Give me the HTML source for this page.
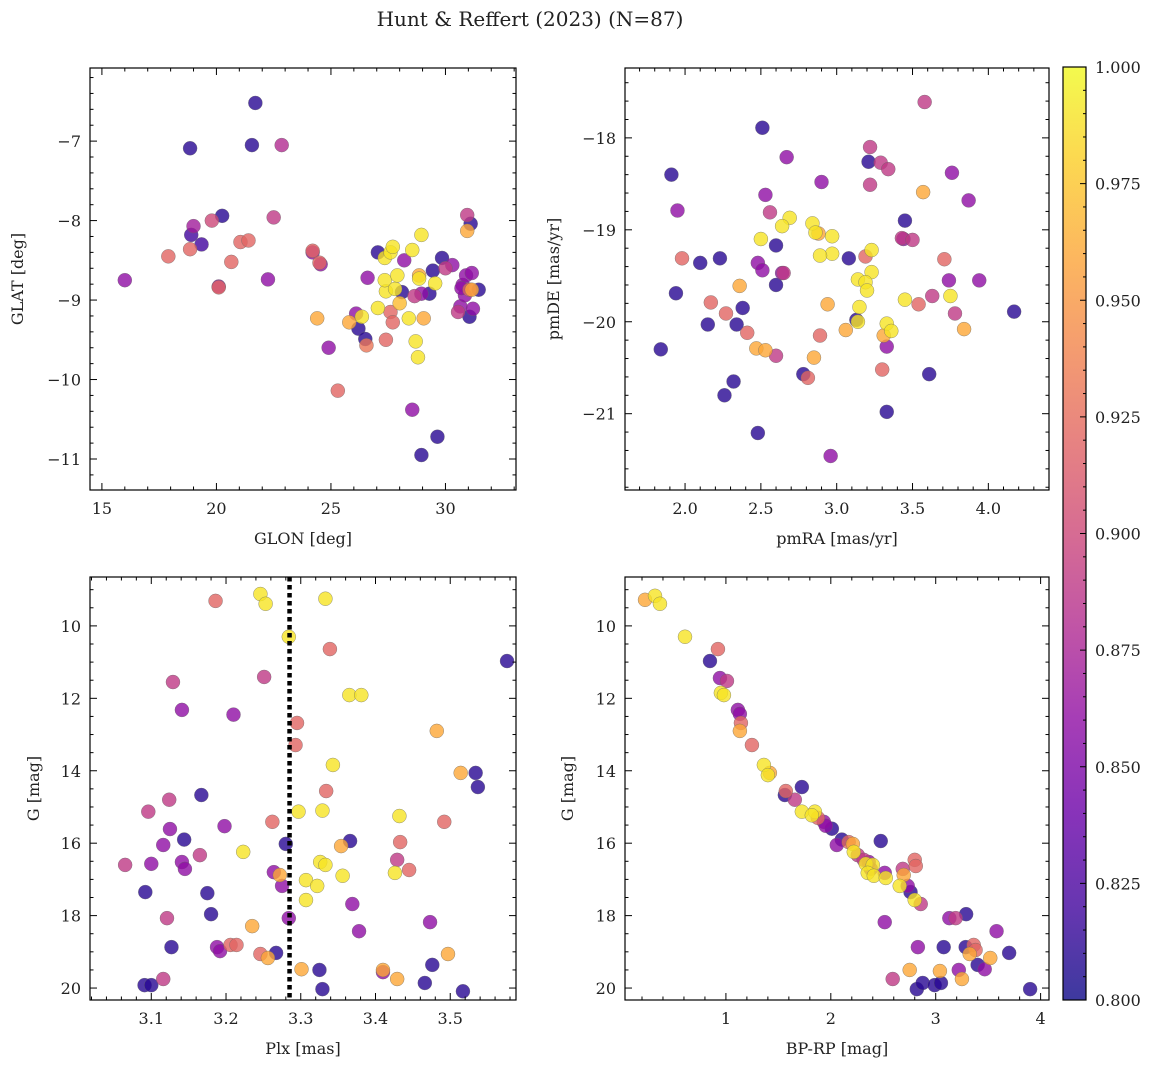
<!DOCTYPE html>
<html><head><meta charset="utf-8">
<style>
html,body{margin:0;padding:0;background:#fff;}
svg text{font-family:"DejaVu Serif","Liberation Serif",serif;fill:#222;}
</style></head>
<body>
<svg id="chart" width="1160" height="1067" viewBox="0 0 1160 1067" xmlns="http://www.w3.org/2000/svg">
<defs>
<linearGradient id="cbgrad" x1="0" y1="1" x2="0" y2="0">
<stop offset="0" stop-color="#0d0887"/><stop offset="0.1" stop-color="#41049d"/><stop offset="0.2" stop-color="#6a00a8"/><stop offset="0.3" stop-color="#8f0da4"/><stop offset="0.4" stop-color="#b12a90"/><stop offset="0.5" stop-color="#cc4778"/><stop offset="0.6" stop-color="#e16462"/><stop offset="0.7" stop-color="#f2844b"/><stop offset="0.8" stop-color="#fca636"/><stop offset="0.9" stop-color="#fcce25"/><stop offset="1" stop-color="#f0f921"/>
</linearGradient>
</defs>
<text x="530" y="26" font-size="20" text-anchor="middle">Hunt &amp; Reffert (2023) (N=87)</text>
</svg>
<script>
// Panel 1: GLON vs GLAT
const p1x=[16.0,18.85,21.7,21.55,22.85,17.9,19.0,18.9,19.35,18.85,19.8,20.25,20.1,20.1,20.65,21.05,21.4,22.5,22.25,24.2,24.2,24.5,24.55,24.4,24.9,25.3,25.8,26.1,26.2,26.35,26.5,26.55,26.6,27.05,27.05,27.35,27.6,27.7,27.4,27.35,27.8,27.9,27.4,27.6,27.7,28.0,28.1,28.2,28.4,28.55,28.65,28.7,28.8,28.85,28.85,28.95,29.05,28.95,28.55,28.95,29.65,29.3,29.55,29.45,29.85,30.0,30.3,30.55,30.65,30.75,30.85,30.9,30.95,30.95,31.1,31.05,31.2,31.15,31.05,31.15,31.45,30.7];
const p1y=[-8.75,-7.09,-6.52,-7.05,-7.05,-8.45,-8.07,-8.18,-8.3,-8.36,-8.0,-7.94,-8.84,-8.83,-8.52,-8.27,-8.25,-7.96,-8.74,-8.38,-8.4,-8.53,-8.55,-9.23,-9.6,-10.14,-9.28,-9.17,-9.36,-9.21,-9.49,-9.57,-8.72,-8.4,-9.1,-8.47,-8.4,-8.33,-8.89,-8.75,-8.86,-8.69,-9.5,-9.15,-9.28,-9.04,-8.9,-8.5,-9.23,-8.37,-8.95,-9.52,-9.72,-8.69,-8.73,-8.18,-9.23,-8.92,-10.38,-10.95,-10.72,-8.92,-8.79,-8.63,-8.47,-8.6,-8.56,-9.15,-9.08,-8.81,-8.94,-8.69,-7.93,-8.13,-8.04,-9.21,-9.11,-8.66,-8.87,-8.87,-8.87,-8.85];
const p1c=[0.86,0.81,0.81,0.81,0.88,0.92,0.87,0.82,0.82,0.92,0.9,0.81,0.92,0.86,0.92,0.92,0.92,0.89,0.86,0.92,0.86,0.92,0.86,0.96,0.86,0.92,0.96,0.86,0.81,0.99,0.81,0.93,0.86,0.81,0.99,0.99,0.99,0.99,0.99,0.99,0.99,0.99,0.92,0.92,0.92,0.97,0.81,0.86,0.99,0.99,0.89,0.99,0.99,0.96,0.99,0.99,0.96,0.86,0.86,0.81,0.81,0.81,0.99,0.81,0.81,0.89,0.86,0.89,0.86,0.86,0.86,0.86,0.89,0.96,0.81,0.81,0.86,0.86,0.92,0.96,0.81,0.86];
// Panel 2: pmRA vs pmDE
const p2x=[3.58,2.51,3.22,3.21,3.29,3.34,2.67,1.91,3.76,2.9,2.53,3.22,3.57,3.87,1.95,2.56,3.45,2.69,2.64,2.84,2.86,2.88,2.97,2.5,3.43,3.44,3.5,2.6,3.23,1.98,2.23,2.1,2.48,2.51,2.65,2.64,2.97,2.89,3.08,3.19,3.23,3.71,3.14,3.19,3.2,3.74,3.94,1.94,2.6,3.63,3.75,3.45,3.54,2.17,2.94,3.15,2.38,2.27,2.36,3.78,4.17,2.15,2.34,3.13,3.14,3.33,3.84,3.06,3.36,3.31,2.41,2.89,3.33,1.84,2.47,2.53,2.6,2.85,3.3,2.78,2.81,3.61,2.32,2.26,3.33,2.48,2.96];
const p2y=[-17.61,-17.89,-18.1,-18.26,-18.27,-18.34,-18.21,-18.4,-18.38,-18.48,-18.62,-18.51,-18.59,-18.68,-18.79,-18.81,-18.9,-18.87,-18.96,-18.93,-19.03,-19.04,-19.07,-19.1,-19.09,-19.1,-19.11,-19.17,-19.22,-19.31,-19.31,-19.36,-19.36,-19.44,-19.47,-19.47,-19.26,-19.28,-19.31,-19.29,-19.46,-19.32,-19.54,-19.57,-19.66,-19.55,-19.55,-19.69,-19.6,-19.72,-19.72,-19.76,-19.81,-19.79,-19.81,-19.84,-19.85,-19.91,-19.61,-19.91,-19.89,-20.03,-20.03,-19.98,-20.0,-20.02,-20.08,-20.09,-20.1,-20.15,-20.12,-20.15,-20.27,-20.3,-20.29,-20.31,-20.37,-20.39,-20.52,-20.57,-20.61,-20.57,-20.65,-20.8,-20.98,-21.21,-21.46];
const p2c=[0.89,0.81,0.89,0.81,0.89,0.89,0.86,0.81,0.86,0.86,0.86,0.89,0.96,0.86,0.86,0.89,0.81,0.99,0.99,0.99,0.99,0.96,0.99,0.99,0.89,0.86,0.89,0.81,0.99,0.92,0.81,0.81,0.86,0.86,0.89,0.86,0.99,0.99,0.81,0.92,0.99,0.92,0.99,0.99,0.99,0.86,0.86,0.81,0.81,0.89,0.99,0.99,0.92,0.92,0.96,0.99,0.81,0.92,0.96,0.89,0.81,0.81,0.81,0.81,0.99,0.99,0.96,0.96,0.99,0.96,0.92,0.92,0.86,0.81,0.96,0.96,0.89,0.96,0.92,0.81,0.92,0.81,0.81,0.81,0.81,0.81,0.86];
// Panel 3: Plx vs G
const p3x=[3.186,3.246,3.253,3.333,3.284,3.339,3.576,3.129,3.251,3.365,3.381,3.141,3.21,3.295,3.482,3.293,3.343,3.334,3.514,3.534,3.537,3.124,3.167,3.096,3.297,3.329,3.432,3.492,3.262,3.125,3.198,3.144,3.366,3.433,3.116,3.28,3.354,3.223,3.165,3.065,3.1,3.141,3.145,3.326,3.333,3.429,3.356,3.426,3.445,3.264,3.272,3.275,3.307,3.322,3.092,3.175,3.307,3.369,3.18,3.121,3.284,3.235,3.473,3.378,3.127,3.188,3.192,3.206,3.214,3.246,3.256,3.267,3.497,3.476,3.301,3.325,3.41,3.41,3.116,3.429,3.091,3.1,3.466,3.329,3.517];
const p3y=[9.31,9.12,9.39,9.25,10.3,10.64,10.97,11.55,11.41,11.91,11.91,12.32,12.45,12.68,12.9,13.29,13.84,14.56,14.06,14.06,14.45,14.8,14.67,15.13,15.13,15.1,15.25,15.41,15.41,15.61,15.53,15.9,15.94,15.97,16.05,16.02,16.08,16.24,16.33,16.6,16.57,16.52,16.71,16.52,16.6,16.46,16.9,16.82,16.74,16.8,16.88,17.18,17.02,17.18,17.35,17.38,17.57,17.68,17.96,18.07,18.07,18.29,18.18,18.43,18.87,18.87,18.98,18.81,18.81,19.06,19.17,19.03,19.06,19.36,19.48,19.5,19.5,19.56,19.75,19.75,19.92,19.92,19.86,20.03,20.09];
const p3c=[0.92,0.99,0.99,0.99,0.99,0.92,0.81,0.89,0.89,0.99,0.99,0.86,0.86,0.92,0.96,0.92,0.99,0.92,0.96,0.81,0.81,0.89,0.81,0.89,0.99,0.99,0.99,0.92,0.92,0.86,0.86,0.81,0.81,0.92,0.86,0.81,0.96,0.99,0.89,0.89,0.86,0.86,0.86,0.99,0.99,0.89,0.99,0.99,0.92,0.86,0.96,0.86,0.99,0.99,0.81,0.81,0.99,0.86,0.81,0.89,0.86,0.96,0.86,0.86,0.81,0.86,0.86,0.92,0.92,0.92,0.96,0.81,0.96,0.81,0.96,0.81,0.96,0.86,0.89,0.96,0.81,0.81,0.81,0.81,0.81];
// Panel 4: BP-RP vs G
const p4x=[0.229,0.324,0.371,0.61,0.924,0.848,0.943,1.01,0.952,0.981,1.114,1.133,1.143,1.133,1.248,1.362,1.419,1.4,1.724,1.571,1.562,1.657,1.848,1.724,1.819,1.876,1.933,1.952,2.01,2.105,2.057,2.17,2.21,2.476,2.219,2.257,2.314,2.362,2.333,2.4,2.381,2.352,2.41,2.524,2.514,2.686,2.695,2.657,2.733,2.76,2.8,2.857,2.8,2.81,2.514,3.13,3.19,3.29,3.58,2.83,3.076,3.286,3.362,3.38,3.324,3.7,3.52,3.4,3.467,3.22,2.752,3.04,2.59,3.25,2.82,2.876,2.99,3.05,3.9];
const p4y=[9.28,9.17,9.39,10.3,10.64,10.97,11.44,11.52,11.85,11.91,12.32,12.43,12.68,12.9,13.29,13.84,14.06,14.12,14.45,14.56,14.67,14.8,15.13,15.13,15.23,15.3,15.41,15.52,15.6,15.9,16.05,15.97,16.02,15.94,16.24,16.33,16.46,16.52,16.57,16.6,16.71,16.82,16.9,16.96,16.82,16.71,16.88,17.18,17.18,17.35,17.57,17.68,16.46,16.63,18.18,18.07,18.07,17.96,18.43,18.87,18.87,18.87,18.81,18.95,19.06,19.03,19.17,19.36,19.48,19.5,19.5,19.53,19.75,19.75,20.03,19.86,19.92,19.86,20.03];
const p4c=[0.96,0.99,0.99,0.99,0.92,0.81,0.86,0.89,0.99,0.99,0.86,0.86,0.92,0.96,0.92,0.99,0.96,0.99,0.81,0.92,0.81,0.89,0.99,0.99,0.99,0.92,0.86,0.86,0.81,0.81,0.86,0.92,0.96,0.81,0.99,0.89,0.89,0.86,0.99,0.99,0.86,0.99,0.99,0.99,0.86,0.89,0.96,0.99,0.86,0.81,0.99,0.89,0.92,0.92,0.86,0.86,0.89,0.81,0.86,0.86,0.81,0.81,0.92,0.92,0.96,0.81,0.96,0.81,0.86,0.86,0.96,0.96,0.89,0.96,0.81,0.81,0.81,0.81,0.81];
const plxLine=3.285;
const cbTicks=[0.800,0.825,0.850,0.875,0.900,0.925,0.950,0.975,1.000];

const NS='http://www.w3.org/2000/svg';
const svg=document.getElementById('chart');
const stops=[[0,'#0d0887'],[0.1,'#41049d'],[0.2,'#6a00a8'],[0.3,'#8f0da4'],[0.4,'#b12a90'],[0.5,'#cc4778'],[0.6,'#e16462'],[0.7,'#f2844b'],[0.8,'#fca636'],[0.9,'#fcce25'],[1,'#f0f921']];
function hex(h){return [1,3,5].map(i=>parseInt(h.substr(i,2),16));}
function plasma(v){let t=Math.max(0,Math.min(1,(v-0.8)/0.2));for(let i=0;i<stops.length-1;i++){if(t<=stops[i+1][0]){const f=(t-stops[i][0])/(stops[i+1][0]-stops[i][0]);const a=hex(stops[i][1]),b=hex(stops[i+1][1]);return 'rgb('+a.map((x,k)=>Math.round(x+(b[k]-x)*f)).join(',')+')';}}return stops[10][1];}
function mk(tag,attrs,parent){const e=document.createElementNS(NS,tag);for(const k in attrs)e.setAttribute(k,attrs[k]);(parent||svg).appendChild(e);return e;}
function fmt(v,d){const s=v.toFixed(d);return v<0?'\u2212'+s.slice(1):s;}

function panel(o){
  const g=mk('g',{});
  
  
  const sx=v=>o.L+(v-o.x0)/(o.x1-o.x0)*(o.R-o.L);
  const sy=v=>o.inv? o.T+(v-o.y0)/(o.y1-o.y0)*(o.B-o.T) : o.B-(v-o.y0)/(o.y1-o.y0)*(o.B-o.T);
  const pts=mk('g',{},g);
  
  
  const idx=o.xs.map((_,i)=>i).sort((a,b)=>o.cs[a]-o.cs[b]);
  idx.forEach(i=>{
    const c=mk('circle',{cx:sx(o.xs[i]),cy:sy(o.ys[i]),r:7,fill:plasma(o.cs[i]),'fill-opacity':0.8,stroke:'#666','stroke-width':0.5,'stroke-opacity':0.7},pts);
    
    
  });
  if(o.vline!==undefined){
    const l=mk('line',{x1:sx(o.vline),x2:sx(o.vline),y1:o.T,y2:o.B,stroke:'#000','stroke-width':4.5,'stroke-dasharray':'4.5,3.5'},g);
    
    
  }
  const fr=mk('rect',{x:o.L,y:o.T,width:o.R-o.L,height:o.B-o.T,fill:'none',stroke:'#000','stroke-width':1.2},g);
  
  
  const tk=mk('g',{stroke:'#000','stroke-width':1},g);
  
  
  const eps=1e-9;
  for(let v=Math.ceil(o.x0/o.xmin-eps)*o.xmin; v<=o.x1+eps; v+=o.xmin){
    const X=sx(v);const maj=Math.abs(v/o.xmaj-Math.round(v/o.xmaj))<1e-6;const len=maj?7:3.5;
    mk('line',{x1:X,x2:X,y1:o.B,y2:o.B-len},tk);mk('line',{x1:X,x2:X,y1:o.T,y2:o.T+len},tk);
    if(maj){const t=mk('text',{x:X,y:o.B+24,'font-size':16,'text-anchor':'middle'},g);t.textContent=fmt(v,o.xd);
      }
  }
  const ylo=Math.min(o.y0,o.y1),yhi=Math.max(o.y0,o.y1);
  for(let v=Math.ceil(ylo/o.ymin-eps)*o.ymin; v<=yhi+eps; v+=o.ymin){
    const Y=sy(v);const maj=Math.abs(v/o.ymaj-Math.round(v/o.ymaj))<1e-6;const len=maj?7:3.5;
    mk('line',{x1:o.L,x2:o.L+len,y1:Y,y2:Y},tk);mk('line',{x1:o.R,x2:o.R-len,y1:Y,y2:Y},tk);
    if(maj){const t=mk('text',{x:o.L-9,y:Y+6,'font-size':16,'text-anchor':'end'},g);t.textContent=fmt(v,o.yd);
      }
  }
  const xl=mk('text',{x:(o.L+o.R)/2,y:o.B+54,'font-size':16,'text-anchor':'middle'},g);xl.textContent=o.xlab;
  
  const yx=o.ylx, yy=(o.T+o.B)/2;
  const yl=mk('text',{x:yx,y:yy,'font-size':16,'text-anchor':'middle',transform:'rotate(-90 '+yx+' '+yy+')'},g);yl.textContent=o.ylab;
  
}

panel({name:'panel-glon-glat',L:90,R:516,T:68,B:490,x0:14.48,x1:33.08,y0:-11.39,y1:-6.08,xmaj:5,xmin:1,ymaj:1,ymin:0.2,xd:0,yd:0,xs:p1x,ys:p1y,cs:p1c,xlab:'GLON [deg]',ylab:'GLAT [deg]',ylx:23});
panel({name:'panel-pm',L:625,R:1049,T:68,B:490,x0:1.604,x1:4.40,y0:-21.83,y1:-17.24,xmaj:0.5,xmin:0.1,ymaj:1,ymin:0.2,xd:1,yd:0,xs:p2x,ys:p2y,cs:p2c,xlab:'pmRA [mas/yr]',ylab:'pmDE [mas/yr]',ylx:559});
panel({name:'panel-plx-g',L:90,R:516,T:577,B:1000,x0:3.018,x1:3.588,y0:8.65,y1:20.33,inv:true,xmaj:0.1,xmin:0.02,ymaj:2,ymin:0.5,xd:1,yd:0,xs:p3x,ys:p3y,cs:p3c,xlab:'Plx [mas]',ylab:'G [mag]',ylx:39,vline:plxLine});
panel({name:'panel-cmd',L:625,R:1049,T:577,B:1000,x0:0.038,x1:4.08,y0:8.65,y1:20.33,inv:true,xmaj:1,xmin:0.2,xd:0,yd:0,ymaj:2,ymin:0.5,xs:p4x,ys:p4y,cs:p4c,xlab:'BP-RP [mag]',ylab:'G [mag]',ylx:573});

// colorbar
const cb=mk('g',{});


const CT=67,CB=1000,CL=1063,CR=1086;
mk('rect',{x:CL,y:CT,width:CR-CL,height:CB-CT,fill:'url(#cbgrad)','fill-opacity':0.8},cb);
mk('rect',{x:CL,y:CT,width:CR-CL,height:CB-CT,fill:'none',stroke:'#000','stroke-width':1.2},cb);
const cy=v=>CB-(v-0.8)/0.2*(CB-CT);
for(let v=0.8;v<=1.0001;v+=0.005){const Y=cy(v);const maj=cbTicks.some(t=>Math.abs(t-v)<1e-6);
  mk('line',{x1:CR,x2:CR-(maj?6:3),y1:Y,y2:Y,stroke:'#000','stroke-width':1},cb);}
cbTicks.forEach(v=>{const t=mk('text',{x:CR+9,y:cy(v)+6,'font-size':16},cb);t.textContent=v.toFixed(3);
  });
</script>
</body></html>
